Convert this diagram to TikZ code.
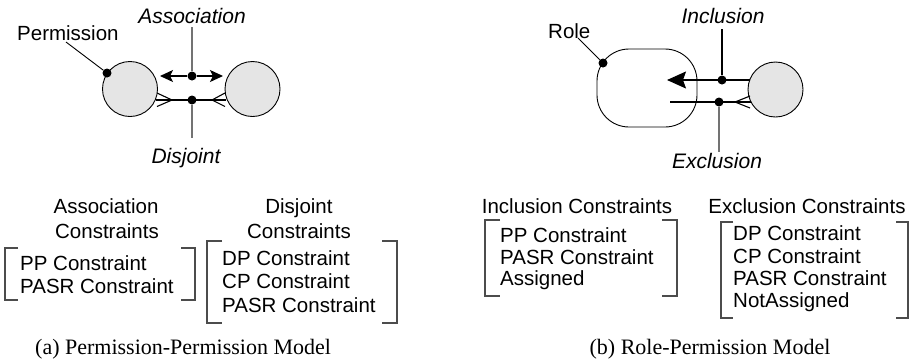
\documentclass[tikz,border=0pt]{standalone}
\usepackage{fontspec}
\setmainfont{Liberation Serif}
\setsansfont{Liberation Sans}
\usetikzlibrary{arrows.meta}
\begin{document}
\begin{tikzpicture}[x=1pt,y=-1pt,
  lbl/.style={font=\sffamily\fontsize{20.5}{24}\selectfont, inner sep=0pt},
  ilbl/.style={font=\sffamily\itshape\fontsize{21}{24}\selectfont, inner sep=0pt},
  captext/.style={font=\rmfamily\fontsize{22}{26}\selectfont, inner sep=0pt},
  perm/.style={circle, draw=black, line width=0.9pt, fill=gray!20, minimum size=55pt, inner sep=0pt},
  rolebox/.style={draw, line width=0.9pt, rounded corners=32pt, minimum width=100pt, minimum height=78pt, inner sep=0pt},
  dot/.style={circle, fill=black, inner sep=0pt, minimum size=9pt},
  lead/.style={line width=0.9pt},
  stem/.style={line width=1.1pt, draw=black!55},
  link/.style={line width=1.1pt},
  bracket/.style={line width=1.1pt, draw=black!70},
  tipA/.style={-{Stealth[length=13pt,width=12pt,inset=3pt]}},
  tipB/.style={-{Stealth[length=19pt,width=17pt,inset=3pt]}},
]
\useasboundingbox (0,0) rectangle (917,360);

% ---------- (a) Permission-Permission model ----------
\node[perm] (p1) at (130,89) {};
\node[perm] (p2) at (252.5,89) {};
\node[lbl, anchor=base west] (permlbl) at (17,40) {Permission};
\node[ilbl, anchor=base] (assoc) at (192,23) {Association};
\node[ilbl, anchor=base] (disj) at (186,163) {Disjoint};

\node[dot] (dotP) at (107,73) {};
\node[dot] (dotA) at (192,76) {};
\node[dot] (dotD) at (192,100) {};

\coordinate (permfoot) at (66,42);
\coordinate (assocfoot) at (192,27);
\coordinate (disjtop) at (192,138);
\coordinate (aL) at (160,76);
\coordinate (aR) at (223,76);
\coordinate (dL) at (156,100);
\coordinate (dR) at (226,100);
\coordinate (vL) at (172,100);
\coordinate (vR) at (212,100);

\draw[lead] (permfoot) -- (dotP);
\draw[stem] (assocfoot) -- (dotA);
\draw[stem] (dotD) -- (disjtop);
\draw[link, tipA] (dotA) -- (aL);
\draw[link, tipA] (dotA) -- (aR);
\draw[link] (dL) -- (dR);
\draw[link] (vL) -- ++(-15,-7) (vL) -- ++(-15,6.5);
\draw[link] (vR) -- ++(13,-7) (vR) -- ++(13,6.5);

% constraint lists
\node[lbl, anchor=base] (h1a) at (106,213) {Association};
\node[lbl, anchor=base] (h1b) at (107,238) {Constraints};
\node[lbl, anchor=base] (h2a) at (299,213) {Disjoint};
\node[lbl, anchor=base] (h2b) at (299,238) {Constraints};

\draw[bracket] (18,248) -- (5,248) -- (5,300) -- (18,300);
\draw[bracket] (181,248) -- (195,248) -- (195,300) -- (181,300);
\node[lbl, anchor=base west] (c1a) at (20,270) {PP Constraint};
\node[lbl, anchor=base west] (c1b) at (20,293) {PASR Constraint};

\draw[bracket] (222,241) -- (207,241) -- (207,323) -- (222,323);
\draw[bracket] (382,241) -- (397,241) -- (397,323) -- (382,323);
\node[lbl, anchor=base west] (c2a) at (222,265) {DP Constraint};
\node[lbl, anchor=base west] (c2b) at (222,288) {CP Constraint};
\node[lbl, anchor=base west] (c2c) at (222,312) {PASR Constraint};

\node[captext, anchor=base west] (capa) at (35,354) {(a) Permission-Permission Model};

% ---------- (b) Role-Permission model ----------
\node[rolebox] (role) at (647,88) {};
\node[perm] (p3) at (775.5,89.5) {};
\node[lbl, anchor=base west] (rolelbl) at (548,38) {Role};
\node[ilbl, anchor=base] (incl) at (723,23) {Inclusion};
\node[ilbl, anchor=base] (excl) at (717,168) {Exclusion};

\node[dot] (dotR) at (603,63) {};
\node[dot] (dotI) at (722,80) {};
\node[dot] (dotE) at (719,102) {};

\coordinate (rolefoot) at (578,38);
\coordinate (inclfoot) at (722,29);
\coordinate (excltop) at (719,152);
\coordinate (iR) at (750,80);
\coordinate (iTip) at (667,80);
\coordinate (eL) at (670,102);
\coordinate (eR) at (751,102);
\coordinate (vE) at (735,102);

\draw[lead] (rolefoot) -- (dotR);
\draw[link] (inclfoot) -- (dotI);
\draw[stem] (dotE) -- (excltop);
\draw[link, tipB] (iR) -- (iTip);
\draw[link] (eL) -- (eR);
\draw[link] (vE) -- ++(15,-6) (vE) -- ++(15,6);

\node[lbl, anchor=base] (h3) at (577,213) {Inclusion Constraints};
\node[lbl, anchor=base] (h4) at (807,213) {Exclusion Constraints};

\draw[bracket] (500,220) -- (485,220) -- (485,296) -- (500,296);
\draw[bracket] (662,220) -- (677,220) -- (677,296) -- (662,296);
\node[lbl, anchor=base west] (c3a) at (500,242) {PP Constraint};
\node[lbl, anchor=base west] (c3b) at (500,264) {PASR Constraint};
\node[lbl, anchor=base west] (c3c) at (500,285) {Assigned};

\draw[bracket] (733,222) -- (721,222) -- (721,318) -- (733,318);
\draw[bracket] (896,222) -- (908,222) -- (908,318) -- (896,318);
\node[lbl, anchor=base west] (c4a) at (733,240) {DP Constraint};
\node[lbl, anchor=base west] (c4b) at (733,263) {CP Constraint};
\node[lbl, anchor=base west] (c4c) at (733,285) {PASR Constraint};
\node[lbl, anchor=base west] (c4d) at (733,307) {NotAssigned};

\node[captext, anchor=base] (capb) at (710,354) {(b) Role-Permission Model};
\end{tikzpicture}
\end{document}
